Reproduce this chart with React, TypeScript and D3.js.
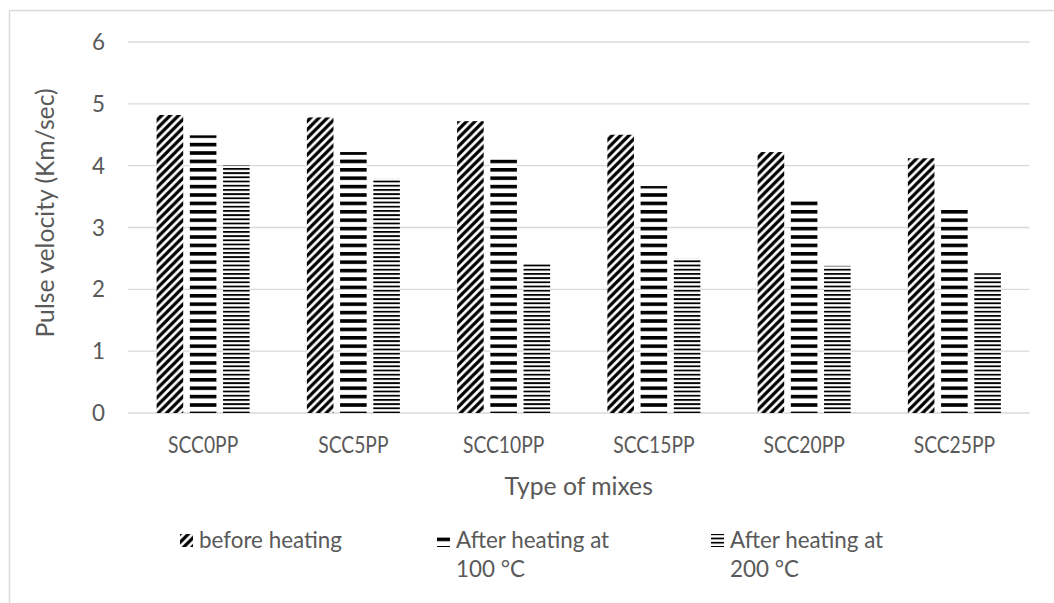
import React from "react";
import * as d3 from "d3";

const categories = ["SCC0PP", "SCC5PP", "SCC10PP", "SCC15PP", "SCC20PP", "SCC25PP"];
const seriesNames = ["before heating", "After heating at 100 °C", "After heating at 200 °C"];
const beforeHeating = [4.82, 4.78, 4.72, 4.5, 4.22, 4.12];
const after100 = [4.49, 4.22, 4.1, 3.67, 3.45, 3.33];
const after200 = [4.01, 3.79, 2.41, 2.5, 2.38, 2.26];
const yTicks = [0, 1, 2, 3, 4, 5, 6];
const seriesValues = [beforeHeating, after100, after200];
const legendLines = [["before heating"], ["After heating at", "100 °C"], ["After heating at", "200 °C"]];
const patternIds = ["pDiag", "pWideH", "pNarrowH"];

const W = 1054;
const H = 603;
const FONT = "Lato, 'Open Sans', sans-serif";
const TXT = "#595959";
const LBL = 22.4;
const TTL = 24.7;

export default function App() {
  const x0 = d3.scaleBand<string>().domain(categories).range([128, 1029.5]).padding(0);
  const x1 = d3.scaleBand<string>().domain(seriesNames).range([-46.5, 46.5]).paddingInner(0.2).paddingOuter(0);
  const y = d3.scaleLinear().domain([0, 6]).range([413, 42]);

  const legendPos = [
    { sx: 180, tx: 199 },
    { sx: 437, tx: 456 },
    { sx: 711, tx: 730 },
  ];

  return (
    <div style={{ position: "absolute", left: 0, top: 0, width: W, height: H }}>
      <svg width={W} height={H} style={{ display: "block", background: "#fff" }}>
        <defs>
          <pattern id="pDiag" patternUnits="userSpaceOnUse" width={8.4} height={8.4}>
            <rect width={8.4} height={8.4} fill="#fff" />
            <path d="M-2.1,2.1 L2.1,-2.1 M0,8.4 L8.4,0 M6.3,10.5 L10.5,6.3" stroke="#000" strokeWidth={3.2} />
          </pattern>
          <pattern id="pWideH" patternUnits="userSpaceOnUse" width={8.4} height={8.4}>
            <rect width={8.4} height={8.4} fill="#fff" />
            <rect y={0} width={8.4} height={3.6} fill="#000" />
          </pattern>
          <pattern id="pNarrowH" patternUnits="userSpaceOnUse" width={4.2} height={4.2}>
            <rect width={4.2} height={4.2} fill="#fff" />
            <rect y={0} width={4.2} height={1.8} fill="#000" />
          </pattern>
        </defs>

        {/* chart border */}
        <line x1={9.5} y1={10.5} x2={W} y2={10.5} stroke="#d9d9d9" strokeWidth={1.5} />
        <line x1={9.5} y1={10.5} x2={9.5} y2={H} stroke="#d9d9d9" strokeWidth={1.5} />

        {/* gridlines */}
        {yTicks.map((t) => (
          <line key={"g" + t} x1={128} x2={1029.5} y1={y(t)} y2={y(t)} stroke="#d9d9d9" strokeWidth={1.3} />
        ))}

        {/* y tick labels */}
        {yTicks.map((t) => (
          <text key={"yt" + t} x={105} y={y(t)} dy="0.36em" textAnchor="end" fontFamily={FONT} fontSize={LBL} fill={TXT}>
            {t}
          </text>
        ))}

        {/* bars */}
        {categories.map((c, i) => {
          const cx = (x0(c) as number) + x0.bandwidth() / 2;
          return seriesNames.map((s, j) => {
            const v = seriesValues[j][i];
            return (
              <rect
                key={c + s}
                x={cx + (x1(s) as number)}
                y={y(v)}
                width={x1.bandwidth()}
                height={y(0) - y(v)}
                fill={`url(#${patternIds[j]})`}
              />
            );
          });
        })}

        {/* x labels */}
        {categories.map((c) => (
          <text
            key={"xl" + c}
            transform={`translate(${(x0(c) as number) + x0.bandwidth() / 2},453) scale(0.86,1)`}
            textAnchor="middle"
            fontFamily={FONT}
            fontSize={LBL}
            fill={TXT}
          >
            {c}
          </text>
        ))}

        {/* axis titles */}
        <text x={578.7} y={495} textAnchor="middle" fontFamily={FONT} fontSize={TTL} fill={TXT}>
          Type of mixes
        </text>
        <text transform="translate(54,213) rotate(-90)" textAnchor="middle" fontFamily={FONT} fontSize={TTL} fill={TXT}>
          Pulse velocity (Km/sec)
        </text>

        {/* legend */}
        {legendPos.map((p, k) => (
          <g key={"lg" + k}>
            <rect x={p.sx} y={534} width={13} height={13} fill={`url(#${patternIds[k]})`} />
            {legendLines[k].map((ln, li) => (
              <text key={li} x={p.tx} y={548 + li * 28.5} fontFamily={FONT} fontSize={LBL} fill={TXT}>
                {ln}
              </text>
            ))}
          </g>
        ))}
      </svg>
    </div>
  );
}
